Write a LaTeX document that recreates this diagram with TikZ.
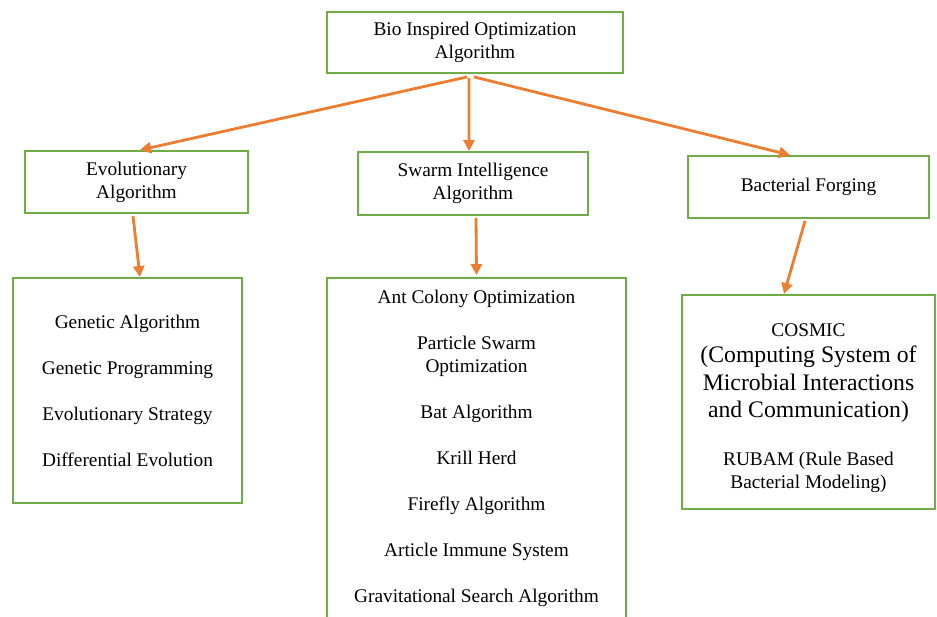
\documentclass[tikz,border=0pt]{standalone}
\usepackage{fontspec}
\setmainfont{Liberation Serif}
\usetikzlibrary{arrows.meta}

\definecolor{boxgreen}{RGB}{112,173,71}
\definecolor{linkorange}{RGB}{237,125,49}

\begin{document}
\begin{tikzpicture}[x=0.02cm,y=-0.02cm,>={Triangle[length=2.2mm,width=2.2mm]},
        box/.style={draw=boxgreen,line width=1.1pt,inner sep=0pt,align=center,
                font=\fontsize{11}{13.1}\selectfont},
        txt/.style={inner sep=0pt,align=center,font=\fontsize{11}{13.1}\selectfont},
        link/.style={->,draw=linkorange,fill=linkorange,line width=1.6pt}]
                \useasboundingbox (0,0) rectangle (937,617);

                % top level
                \node[box,minimum width=5.92cm,minimum height=1.22cm] (top) at (475,42.5) {Bio Inspired Optimization\\Algorithm};

                % second level
                \node[box,minimum width=4.46cm,minimum height=1.24cm] (evo) at (136.5,182) {Evolutionary\\Algorithm};
                \node[box,minimum width=4.6cm,minimum height=1.26cm] (swarm) at (473,183.5) {Swarm Intelligence\\Algorithm};
                \node[box,minimum width=4.82cm,minimum height=1.24cm] (bact) at (808.5,187) {Bacterial Forging};

                % lists
                \node[box,minimum width=4.58cm,minimum height=4.5cm] (evolist) at (127.5,390.5)
                        {Genetic Algorithm\\[13.1pt]Genetic Programming\\[13.1pt]Evolutionary Strategy\\[13.1pt]Differential Evolution};
                \node[box,minimum width=5.98cm,minimum height=6.8cm] (swarmlist) at (476.5,448)
                        {Ant Colony Optimization\\[13.1pt]Particle Swarm\\Optimization\\[13.1pt]Bat Algorithm\\[13.1pt]Krill Herd\\[13.1pt]Firefly Algorithm\\[13.1pt]Article Immune System\\[13.1pt]Gravitational Search Algorithm};
                \node[box,minimum width=5.06cm,minimum height=4.28cm] (bactlist) at (808.5,402) {};
                \node[txt] (cosmic) at (808.5,330) {COSMIC};
                \node[txt,font=\fontsize{13.5}{15.6}\selectfont] (cosmicfull) at (808.5,384.5)
                        {(Computing System of\\Microbial Interactions\\and Communication)};
                \node[txt] (rubam) at (808.5,472) {RUBAM (Rule Based\\Bacterial Modeling)};

                % arrows
                \draw[link] ([xshift=-0.16cm,yshift=-0.06cm]top.south) -- ([xshift=0.07cm]evo.north);
                \draw[link] ([xshift=-0.12cm,yshift=-0.08cm]top.south) -- ([xshift=-0.08cm]swarm.north);
                \draw[link] ([xshift=-0.02cm,yshift=-0.06cm]top.south) -- ([xshift=-0.37cm]bact.north);
                \draw[link] ([xshift=-0.07cm,yshift=-0.04cm]evo.south) -- ([xshift=0.25cm]evolist.north);
                \draw[link] ([xshift=0.06cm,yshift=-0.04cm]swarm.south) -- ([yshift=0.04cm]swarmlist.north);
                \draw[link] ([xshift=-0.07cm,yshift=-0.04cm]bact.south) -- ([xshift=-0.49cm]bactlist.north);
\end{tikzpicture}
\end{document}
